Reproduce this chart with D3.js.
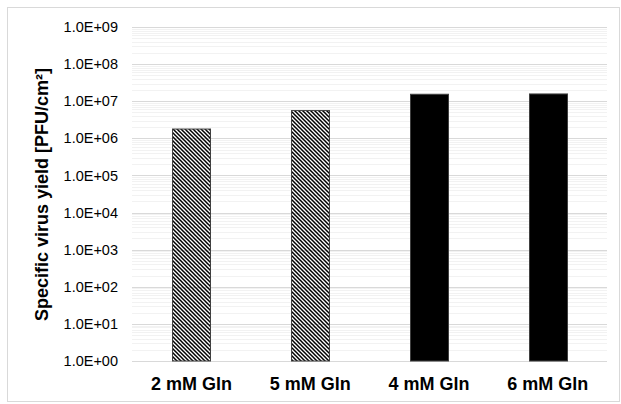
<!DOCTYPE html>
<html>
<head>
<meta charset="utf-8">
<script src="https://cdn.jsdelivr.net/npm/d3@7"></script>
<style>
  body { margin: 0; background: #fff; }
  text { font-family: "Liberation Sans", Arial, sans-serif; }
</style>
</head>
<body>
<script>
var w = 621, h = 404;

// data
var categories = ["2 mM Gln", "5 mM Gln", "4 mM Gln", "6 mM Gln"];
var yieldValues = [1.78e6, 5.6e6, 1.54e7, 1.57e7];
var barFills = ["hatch", "hatch", "solid", "solid"];
var tickValues = [1e0, 1e1, 1e2, 1e3, 1e4, 1e5, 1e6, 1e7, 1e8, 1e9];

var plotLeft = 132, plotRight = 607, plotTop = 27, plotBottom = 361;

var svg = d3.select("body").append("svg")
  .attr("width", w)
  .attr("height", h);

// hatch pattern
var defs = svg.append("defs");
defs.append("pattern")
  .attr("id", "hatch")
  .attr("patternUnits", "userSpaceOnUse")
  .attr("width", 4)
  .attr("height", 4)
  .append("path")
  .attr("d", "M-1,-1 L5,5 M-1,3 L1,5 M3,-1 L5,1")
  .attr("stroke", "#000")
  .attr("stroke-width", 1.5);

// chart border
svg.append("rect")
  .attr("x", 7.5).attr("y", 7.5)
  .attr("width", 612).attr("height", 394)
  .attr("fill", "#fff")
  .attr("stroke", "#d9d9d9");

var xScale = d3.scaleBand()
  .domain(categories)
  .range([plotLeft, plotRight])
  .paddingInner(0.68)
  .paddingOuter(0.34);

var yScale = d3.scaleLog()
  .domain([1e0, 1e9])
  .range([plotBottom, plotTop]);

// minor gridlines
var minor = [];
for (var e = 0; e < 9; e++) {
  for (var m = 2; m < 10; m++) minor.push(m * Math.pow(10, e));
}
svg.selectAll(".minor")
  .data(minor)
  .enter()
  .append("line")
  .attr("class", "minor")
  .attr("x1", plotLeft).attr("x2", plotRight)
  .attr("y1", function(d) { return Math.round(yScale(d)) + 0.5; })
  .attr("y2", function(d) { return Math.round(yScale(d)) + 0.5; })
  .attr("stroke", "#f2f2f2");

// major gridlines
svg.selectAll(".major")
  .data(tickValues)
  .enter()
  .append("line")
  .attr("class", "major")
  .attr("x1", plotLeft).attr("x2", plotRight)
  .attr("y1", function(d) { return Math.round(yScale(d)) + 0.5; })
  .attr("y2", function(d) { return Math.round(yScale(d)) + 0.5; })
  .attr("stroke", "#d9d9d9");

// y axis labels
var yAxis = d3.axisLeft(yScale)
  .tickValues(tickValues)
  .tickSize(0)
  .tickPadding(14)
  .tickFormat(function(d) {
    var ex = Math.round(Math.log10(d));
    return "1.0E+" + (ex < 10 ? "0" : "") + ex;
  });

var gy = svg.append("g")
  .attr("transform", "translate(" + plotLeft + ",0)")
  .call(yAxis);
gy.select(".domain").remove();
gy.selectAll("text")
  .attr("font-family", "Liberation Sans, Arial, sans-serif")
  .attr("font-size", "14.5px")
  .attr("fill", "#000");

// bars
svg.selectAll(".bar")
  .data(yieldValues)
  .enter()
  .append("rect")
  .attr("class", "bar")
  .attr("x", function(d, i) { return Math.round(xScale(categories[i])) + 0.5; })
  .attr("y", function(d) { return yScale(d); })
  .attr("width", xScale.bandwidth())
  .attr("height", function(d) { return yScale(1) - yScale(d); })
  .attr("fill", function(d, i) { return barFills[i] === "hatch" ? "url(#hatch)" : "#000"; })
  .attr("stroke", "#404040")
  .attr("stroke-width", 1);

// x axis labels
var xAxis = d3.axisBottom(xScale).tickSize(0).tickPadding(16);
var gx = svg.append("g")
  .attr("transform", "translate(0," + plotBottom + ")")
  .call(xAxis);
gx.select(".domain").remove();
gx.selectAll("text")
  .attr("font-family", "Liberation Sans, Arial, sans-serif")
  .attr("font-size", "18px")
  .attr("font-weight", "bold")
  .attr("fill", "#000");

// y axis title
svg.append("text")
  .attr("transform", "translate(48,194.5) rotate(-90)")
  .attr("text-anchor", "middle")
  .attr("font-size", "18px")
  .attr("font-weight", "bold")
  .attr("fill", "#000")
  .text("Specific virus yield [PFU/cm²]");
</script>
</body>
</html>
